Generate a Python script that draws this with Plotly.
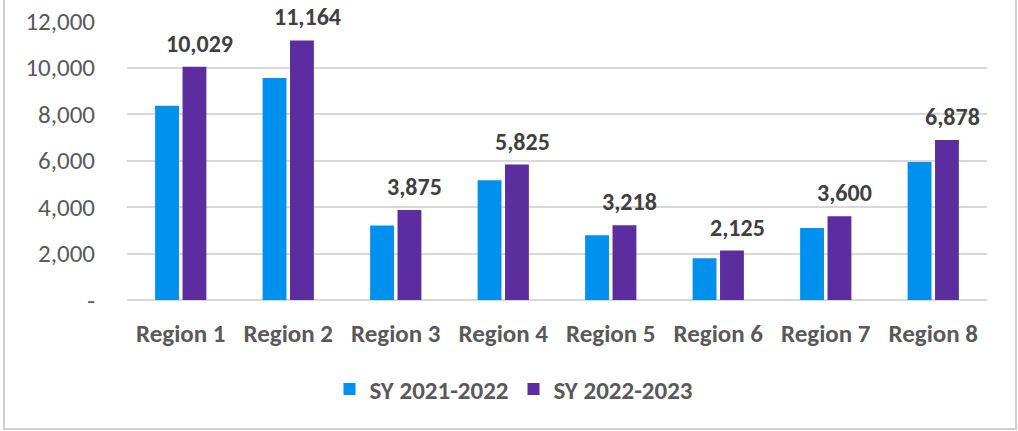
import plotly.graph_objects as go

categories = ["Region 1", "Region 2", "Region 3", "Region 4", "Region 5", "Region 6", "Region 7", "Region 8"]
sy_2021_2022 = [8350, 9550, 3200, 5150, 2790, 1800, 3100, 5940]
sy_2022_2023 = [10029, 11164, 3875, 5825, 3218, 2125, 3600, 6878]
series_names = ["SY 2021-2022", "SY 2022-2023"]
y_tick_vals = [0, 2000, 4000, 6000, 8000, 10000, 12000]
y_tick_text = ["-", "2,000", "4,000", "6,000", "8,000", "10,000", "12,000"]

FONT = "Calibri, Carlito, 'Open Sans', sans-serif"
BLUE = "#0091EE"
PURPLE = "#5C2D9F"

fig = go.Figure()
fig.add_trace(go.Bar(x=categories, y=sy_2021_2022, name=series_names[0],
                     marker=dict(color=BLUE, line=dict(width=0))))
fig.add_trace(go.Bar(x=categories, y=sy_2022_2023, name=series_names[1],
                     marker=dict(color=PURPLE, line=dict(width=0))))

for c, v in zip(categories, sy_2022_2023):
    fig.add_annotation(x=c, y=v, xref="x", yref="y", text=f"{v:,}",
                       showarrow=False, yanchor="bottom", xshift=19, yshift=8,
                       borderpad=0,
                       font=dict(family=FONT, size=24, color="#404040", weight="bold"))

# outer chart border
fig.add_shape(type="rect", xref="paper", yref="paper",
              x0=-0.1430, x1=1.0337, y0=-0.4625, y1=1.12,
              line=dict(color="#D0D0D0", width=2), fillcolor="rgba(0,0,0,0)", layer="below")

fig.update_layout(
    width=1018, height=431,
    margin=dict(l=127, r=31, t=21, b=131, autoexpand=False),
    paper_bgcolor="white", plot_bgcolor="white",
    barmode="group", bargap=0.49, bargroupgap=0.13,
    showlegend=True,
    legend=dict(orientation="h", x=0.45, xanchor="center", y=-0.32, yanchor="middle",
                font=dict(family=FONT, size=25, color="#595959", weight="bold"),
                itemwidth=30, traceorder="normal"),
    xaxis=dict(showgrid=False, showline=False, ticks="", ticklabelstandoff=16, automargin=False,
               tickfont=dict(family=FONT, size=25, color="#595959", weight="bold")),
    yaxis=dict(range=[0, 12000], tickvals=y_tick_vals, ticktext=y_tick_text, automargin=False,
               showgrid=True, gridcolor="#D9D9D9", gridwidth=1.5,
               zeroline=True, zerolinecolor="#D9D9D9", zerolinewidth=1.5,
               showline=False, ticks="", ticklabelstandoff=31,
               tickfont=dict(family=FONT, size=25, color="#595959")),
)

fig.write_html("out.html", config={"displayModeBar": False},
               post_script="document.body.style.margin='0';")
